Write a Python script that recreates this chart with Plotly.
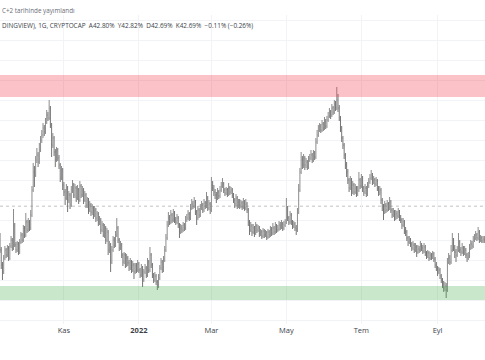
import plotly.graph_objects as go
import pandas as pd

# ---- data (daily bars, CRYPTOCAP, values in %) ----
start_date = "2021-09-10"
first_open = 41.20
close = [
40.50,39.75,39.40,40.10,40.50,40.25,40.60,40.10,40.70,41.00,
40.60,41.75,40.75,40.50,40.80,40.40,40.90,41.25,41.00,41.60,
41.25,41.90,41.50,41.90,41.60,42.25,43.50,44.40,44.25,45.00,
45.25,44.90,45.50,46.00,46.25,46.60,46.40,46.90,47.25,47.10,
47.60,46.75,45.75,46.10,45.40,45.00,45.50,45.10,44.75,44.10,
44.50,43.75,43.40,43.10,43.60,43.00,43.25,42.75,43.50,43.75,
43.25,43.60,43.10,43.50,43.00,43.70,43.25,43.50,43.00,43.25,
42.75,43.00,42.50,42.75,42.40,42.60,42.25,42.50,42.10,42.30,
41.90,42.00,41.50,41.75,41.25,41.60,41.00,41.40,40.50,40.75,
39.90,40.50,41.00,40.75,41.25,41.60,41.00,40.60,40.75,40.25,
39.90,40.25,39.75,40.10,39.85,39.60,39.90,39.50,39.75,39.40,
39.70,39.50,39.80,39.50,39.25,39.60,39.00,39.40,39.60,39.25,
39.90,39.50,40.25,39.75,39.25,39.00,39.20,38.90,38.70,39.10,
39.60,39.90,39.50,40.00,40.50,41.10,41.75,42.10,41.90,42.25,
42.00,42.35,42.00,41.90,42.10,41.75,41.40,41.60,41.50,41.75,
41.60,42.00,42.10,42.30,42.10,42.60,42.80,42.70,42.90,42.40,
42.10,42.50,42.25,42.60,42.75,42.50,42.85,42.70,43.10,42.60,
42.80,42.50,43.75,43.60,43.40,43.25,43.10,43.40,43.20,43.50,
43.70,43.80,43.50,43.35,43.50,43.30,43.60,43.40,43.50,43.25,
43.00,42.80,43.10,42.70,42.90,42.75,42.85,42.65,42.90,42.60,
42.80,42.50,41.90,41.50,41.70,41.40,41.60,41.35,41.70,41.50,
41.60,41.30,41.40,41.20,41.45,41.25,41.35,41.15,41.40,41.25,
41.50,41.35,41.60,41.40,41.70,41.50,41.55,41.75,41.65,41.80,
41.60,41.75,41.90,42.60,42.10,41.90,42.25,41.90,41.70,41.80,
41.60,41.50,42.40,43.50,44.40,45.00,44.75,45.10,44.75,44.90,
44.65,45.00,45.10,45.25,45.00,45.35,45.15,45.90,46.25,46.50,
46.65,46.50,46.80,46.60,46.90,46.70,47.00,47.20,47.40,47.25,
47.60,47.40,47.80,47.60,48.00,47.60,47.10,46.60,46.10,45.75,
45.25,44.75,44.40,44.00,43.60,44.00,43.40,43.75,43.40,43.60,
43.30,43.50,44.00,43.70,44.10,43.60,43.40,43.60,43.30,43.70,
43.90,44.10,44.25,43.90,44.00,43.80,43.95,43.60,43.40,43.50,
43.00,42.70,42.40,42.75,42.50,42.80,42.60,42.90,42.50,42.25,
42.40,42.10,42.30,42.20,42.40,42.10,42.00,41.75,41.90,41.50,
41.40,41.10,40.90,41.00,40.80,40.60,40.75,40.50,40.65,40.40,
40.55,40.50,40.70,40.60,40.45,40.65,40.35,40.20,40.35,40.10,
40.25,40.15,40.30,40.05,39.75,39.60,39.40,39.50,39.20,39.00,
38.80,38.60,38.70,38.50,39.90,40.10,39.90,40.50,41.00,40.60,
40.40,40.25,40.50,40.90,40.50,40.40,40.60,40.35,40.50,40.25,
40.10,40.20,40.60,40.80,40.70,41.00,41.10,41.25,41.10,41.40,
41.00,41.10,40.95,41.05,41.00,
]
high = [
41.35,40.65,39.90,40.25,40.70,40.60,40.75,40.70,40.85,41.20,
41.10,42.55,41.85,40.90,40.95,40.90,41.05,41.40,41.35,41.75,
41.70,42.35,42.00,42.10,42.00,42.50,43.70,44.85,44.70,45.20,
45.60,45.40,45.85,46.20,46.50,46.85,46.75,47.10,47.50,47.40,
48.00,47.70,46.85,46.35,46.20,45.55,45.65,45.60,45.25,44.85,
44.70,44.60,43.90,43.55,43.80,43.70,43.45,43.35,43.70,44.00,
43.85,43.80,43.70,43.75,43.60,43.95,43.80,43.70,43.60,43.45,
43.35,43.15,43.10,42.95,42.85,42.80,42.70,42.70,42.60,42.45,
42.40,42.20,42.10,41.95,41.85,41.80,41.70,41.60,41.50,40.95,
40.85,40.70,41.20,41.15,41.45,42.10,41.70,41.10,40.95,40.85,
40.35,40.40,40.35,40.30,40.20,40.00,40.10,40.00,39.95,39.85,
39.85,39.85,40.00,39.90,39.60,39.80,39.70,39.55,39.80,39.70,
40.10,40.00,40.65,40.35,39.85,39.35,39.40,39.30,39.00,39.30,
39.75,40.10,40.00,40.20,40.70,41.30,41.95,42.40,42.25,42.50,
42.35,42.55,42.45,42.15,42.30,42.20,41.85,41.80,41.75,41.90,
41.85,42.20,42.30,42.50,42.40,42.80,43.05,42.95,43.15,43.00,
42.50,42.70,42.60,42.80,42.95,42.85,43.05,42.95,43.40,43.20,
43.00,42.90,44.15,43.95,43.75,43.55,43.40,43.60,43.50,43.70,
43.90,44.10,43.90,43.60,43.65,43.60,43.85,43.70,43.65,43.60,
43.35,43.10,43.30,43.20,43.05,43.05,43.00,42.95,43.10,43.00,
43.05,42.90,42.60,42.00,41.90,41.80,41.80,41.70,41.90,41.80,
41.75,41.70,41.55,41.50,41.60,41.55,41.50,41.45,41.55,41.50,
41.70,41.65,41.85,41.70,41.90,41.80,41.75,41.95,41.90,42.00,
41.90,41.95,42.05,43.10,42.70,42.20,42.45,42.35,42.00,41.95,
41.90,41.75,42.60,43.80,44.60,45.40,45.20,45.30,45.20,45.10,
45.00,45.20,45.30,45.50,45.35,45.50,45.45,46.10,46.50,46.75,
46.85,46.80,47.00,46.90,47.15,47.05,47.20,47.40,47.60,47.50,
47.80,47.70,48.00,47.95,48.65,48.30,47.75,47.20,46.70,46.20,
45.85,45.35,44.90,44.55,44.10,44.20,44.10,43.95,43.85,43.80,
43.70,43.70,44.40,44.10,44.30,44.20,43.70,43.80,43.70,43.90,
44.10,44.30,44.50,44.35,44.20,44.10,44.15,44.05,43.70,43.70,
43.60,43.10,42.80,42.95,42.85,43.00,42.90,43.15,43.00,42.60,
42.60,42.50,42.50,42.45,42.60,42.50,42.25,42.10,42.10,42.00,
41.65,41.50,41.20,41.20,41.10,40.90,40.95,40.85,40.85,40.75,
40.75,40.70,40.95,40.85,40.75,40.85,40.75,40.45,40.50,40.45,
40.40,40.35,40.45,40.40,40.15,39.90,39.70,39.65,39.60,39.30,
39.10,38.95,38.90,38.85,40.10,40.35,40.25,40.75,41.35,41.10,
40.75,40.55,40.70,41.35,41.00,40.65,40.85,40.70,40.70,40.60,
40.35,40.40,40.80,41.00,40.95,41.20,41.30,41.45,41.35,41.65,
41.50,41.25,41.20,41.20,41.20,
]
low = [
40.35,39.55,39.00,39.30,40.00,40.10,40.15,39.95,40.00,40.60,
40.45,40.50,40.65,40.35,40.40,40.25,40.30,40.80,40.85,40.90,
41.10,41.15,41.35,41.40,41.45,41.50,42.15,43.40,43.65,44.15,
44.85,44.65,44.80,45.40,45.85,46.10,46.20,46.30,46.80,46.95,
47.00,46.60,45.15,45.60,45.20,44.65,44.90,44.95,44.55,43.90,
44.00,43.50,43.20,42.75,43.00,42.40,42.85,42.55,42.65,43.35,
43.10,43.10,42.90,43.00,42.80,42.90,43.10,43.15,42.80,42.90,
42.60,42.60,42.30,42.40,42.20,42.25,42.05,42.15,41.90,41.95,
41.70,41.75,41.30,41.40,41.15,41.10,40.80,40.90,40.25,40.35,
39.40,39.80,40.40,40.60,40.65,41.15,40.85,40.45,40.50,40.10,
39.70,39.80,39.60,39.65,39.70,39.45,39.50,39.35,39.40,39.05,
39.30,39.35,39.40,39.35,39.10,39.15,38.65,38.90,39.30,39.10,
39.15,39.35,39.40,39.60,39.10,38.85,38.90,38.75,38.50,38.60,
39.00,39.50,39.35,39.40,39.90,40.40,41.00,41.65,41.75,41.80,
41.85,41.90,41.85,41.75,41.80,41.60,41.10,41.30,41.35,41.40,
41.45,41.50,41.90,42.00,41.95,42.00,42.50,42.55,42.60,42.25,
41.75,42.00,42.10,42.15,42.50,42.35,42.40,42.55,42.60,42.45,
42.50,42.30,42.40,43.45,43.20,43.05,42.85,43.00,43.05,43.10,
43.40,43.60,43.35,43.20,43.25,43.15,43.20,43.25,43.30,43.10,
42.85,42.60,42.70,42.55,42.60,42.55,42.60,42.50,42.55,42.45,
42.50,42.35,41.70,41.25,41.40,41.20,41.30,41.15,41.25,41.35,
41.40,41.15,41.20,41.05,41.10,41.10,41.15,41.00,41.05,41.10,
41.15,41.20,41.25,41.25,41.30,41.35,41.40,41.45,41.50,41.55,
41.45,41.50,41.65,41.80,41.95,41.75,41.80,41.75,41.55,41.60,
41.45,41.25,41.40,42.30,43.40,44.30,44.55,44.60,44.50,44.60,
44.50,44.55,44.90,45.00,44.85,44.90,45.00,45.05,45.80,46.15,
46.40,46.35,46.40,46.45,46.50,46.55,46.60,46.90,47.10,47.05,
47.15,47.25,47.30,47.45,47.50,47.40,46.95,46.40,45.90,45.55,
45.05,44.55,44.15,43.80,43.40,43.50,43.20,43.30,43.25,43.30,
43.15,43.20,43.40,43.55,43.60,43.40,43.20,43.30,43.15,43.20,
43.60,43.80,44.00,43.75,43.80,43.65,43.70,43.45,43.20,43.25,
42.80,42.45,42.00,42.30,42.35,42.40,42.45,42.50,42.35,42.10,
42.15,41.95,42.00,42.05,42.10,41.95,41.85,41.55,41.65,41.30,
41.20,40.95,40.70,40.80,40.65,40.45,40.50,40.35,40.40,40.15,
40.30,40.35,40.40,40.45,40.30,40.35,40.20,40.05,40.10,39.95,
40.00,40.00,40.05,39.90,39.60,39.45,39.20,39.30,39.05,38.85,
38.60,38.40,38.45,38.10,38.40,39.80,39.75,39.80,40.40,40.45,
40.10,39.90,40.15,40.40,40.35,40.20,40.30,40.20,40.25,40.10,
39.90,40.00,40.10,40.50,40.55,40.60,40.90,41.00,40.95,41.00,
40.85,40.90,40.85,40.85,40.85,
]
last_price = 42.69
resistance_zone = [48.15, 49.25]
support_zone = [38.00, 38.70]
tick_dates = ["2021-11-01", "2022-01-01", "2022-03-01", "2022-05-01", "2022-07-01", "2022-09-01"]
tick_labels = ["Kas", "<b>2022</b>", "Mar", "May", "Tem", "Eyl"]
header_text = "C+2 tarihinde yayımlandı"
legend_text = "DINGVIEW), 1G, CRYPTOCAP  A42.80%  Y42.82%  D42.69%  K42.69%  −0.11% (−0.26%)"

dates = pd.date_range(start_date, periods=len(close), freq="D")
open_ = [first_open] + close[:-1]

fig = go.Figure()
fig.add_trace(go.Ohlc(
    x=dates, open=open_, high=high, low=low, close=close,
    increasing=dict(line=dict(color="#8c8c8c", width=1)),
    decreasing=dict(line=dict(color="#747474", width=1)),
    tickwidth=0.3, showlegend=False, hoverinfo="skip",
))

# zones (drawn over the grid)
fig.add_shape(type="rect", xref="paper", yref="y", x0=0, x1=1,
              y0=resistance_zone[0], y1=resistance_zone[1],
              fillcolor="rgba(242,54,69,0.30)", line=dict(width=0), layer="above")
fig.add_shape(type="rect", xref="paper", yref="y", x0=0, x1=1,
              y0=support_zone[0], y1=support_zone[1],
              fillcolor="rgba(76,175,80,0.30)", line=dict(width=0), layer="above")
# last price line
fig.add_shape(type="line", xref="paper", yref="y", x0=0, x1=1,
              y0=last_price, y1=last_price,
              line=dict(color="rgba(150,140,150,0.55)", width=1, dash="dot"), layer="below")

font_family = "Open Sans, Roboto, DejaVu Sans, sans-serif"
fig.add_annotation(xref="paper", yref="paper", x=0, y=1, xanchor="left", yanchor="bottom",
                   text=header_text, showarrow=False, yshift=-2,
                   font=dict(size=6.3, color="#6a6d78", family=font_family))
fig.add_annotation(xref="paper", yref="paper", x=0, y=1, xanchor="left", yanchor="middle",
                   text=legend_text, showarrow=False, yshift=-10,
                   font=dict(size=6.4, color="#3c3f4a", family=font_family))

fig.update_layout(
    width=485, height=360,
    margin=dict(l=0, r=0, t=15, b=36),
    paper_bgcolor="white", plot_bgcolor="white",
    font=dict(family=font_family, size=8, color="#3c3f4a"),
    xaxis=dict(
        range=["2021-09-10", "2022-10-09 14:00"],
        rangeslider=dict(visible=False),
        tickvals=tick_dates, ticktext=tick_labels,
        showgrid=True, gridcolor="#f2f3f6", gridwidth=1,
        ticks="", showline=False, zeroline=False,
        tickfont=dict(size=7.5, color="#3c3f4a"),
    ),
    yaxis=dict(
        range=[36.80, 52.25],
        showticklabels=False, ticks="",
        showgrid=True, gridcolor="#f2f3f6", dtick=1,
        zeroline=False, showline=False,
    ),
)

fig.write_html("out.html", config={"displayModeBar": False},
               post_script="document.body.style.margin='0';")
